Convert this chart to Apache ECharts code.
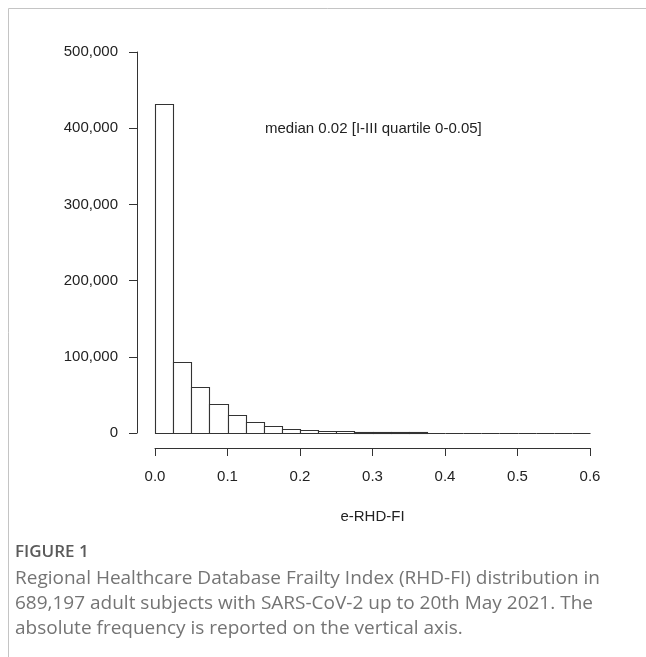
<!DOCTYPE html>
<html>
<head>
<meta charset="utf-8">
<script src="https://cdn.jsdelivr.net/npm/echarts@6/dist/echarts.min.js"></script>
<style>
html,body{margin:0;padding:0;background:#fff;}
#chart{width:646px;height:657px;}
</style>
</head>
<body>
<div id="chart"></div>
<script>
// Histogram bins (lower edge) of e-RHD-FI, bin width 0.025
const binStart = [0.000, 0.025, 0.050, 0.075, 0.100, 0.125, 0.150, 0.175, 0.200, 0.225, 0.250, 0.275,
                  0.300, 0.325, 0.350, 0.375, 0.400, 0.425, 0.450, 0.475, 0.500, 0.525, 0.550, 0.575];
const binWidth = 0.025;
// Absolute frequency per bin
const counts = [431600, 93000, 61000, 38400, 24000, 13900, 9000, 5600, 3400, 2600, 2100, 1500,
                1200, 1000, 900, 0, 0, 0, 0, 0, 0, 0, 0, 0];
const xTicks = [0.0, 0.1, 0.2, 0.3, 0.4, 0.5, 0.6];
const yTicks = [0, 100000, 200000, 300000, 400000, 500000];
const xTitle = 'e-RHD-FI';
const annotation = 'median 0.02 [I-III quartile 0-0.05]';
const figLabel = 'FIGURE 1';
const captionLines = [
  'Regional Healthcare Database Frailty Index (RHD-FI) distribution in',
  '689,197 adult subjects with SARS-CoV-2 up to 20th May 2021. The',
  'absolute frequency is reported on the vertical axis.'
];

const histData = binStart.map((s, i) => [s, s + binWidth, counts[i]]);
const fmtThousands = v => String(Math.round(v)).replace(/\B(?=(\d{3})+(?!\d))/g, ',');

const chart = echarts.init(document.getElementById('chart'), null, {renderer: 'canvas'});
const FONT = '"Liberation Sans", Arial, sans-serif';
const xMin = xTicks[0], xMax = xTicks[xTicks.length - 1];
const halfGapLeft = -binWidth; // R-style detached y axis sits one bin-width left of 0

chart.setOption({
  animation: false,
  backgroundColor: '#fff',
  grid: [
    {left: 137, right: 56, top: 52, bottom: 224},   // bars + y axis
    {left: 155, right: 56, top: 448, height: 0}     // detached x axis
  ],
  xAxis: [
    {gridIndex: 0, type: 'value', min: halfGapLeft, max: xMax, show: false},
    {
      gridIndex: 1, type: 'value', min: xMin, max: xMax, interval: 0.1,
      position: 'bottom',
      name: xTitle, nameLocation: 'middle', nameGap: 61,
      nameTextStyle: {fontFamily: FONT, fontSize: 15, color: '#222'},
      axisLine: {show: true, onZero: false, lineStyle: {color: '#333', width: 1}},
      axisTick: {show: true, length: 8, lineStyle: {color: '#333'}},
      axisLabel: {margin: 21, fontFamily: FONT, fontSize: 15, color: '#222',
                  formatter: v => v.toFixed(1)},
      splitLine: {show: false}
    }
  ],
  yAxis: [
    {
      gridIndex: 0, type: 'value', min: yTicks[0], max: yTicks[yTicks.length - 1], interval: 100000,
      axisLine: {show: true, onZero: false, lineStyle: {color: '#333', width: 1}},
      axisTick: {show: true, length: 8, lineStyle: {color: '#333'}},
      axisLabel: {margin: 19, fontFamily: FONT, fontSize: 15, color: '#222',
                  formatter: v => fmtThousands(v)},
      splitLine: {show: false}
    },
    {gridIndex: 1, type: 'value', min: 0, max: 1, show: false}
  ],
  series: [{
    type: 'custom',
    xAxisIndex: 0, yAxisIndex: 0,
    data: histData,
    encode: {x: [0, 1], y: 2},
    renderItem: function (params, api) {
      const x0 = api.value(0), x1 = api.value(1), y = api.value(2);
      const pBase = api.coord([x0, 0]);
      const pTop = api.coord([x1, y]);
      const left = Math.round(pBase[0]) + 0.5;
      const right = Math.round(pTop[0]) + 0.5;
      const bottom = Math.round(pBase[1]) + 0.5;
      const top = Math.round(pTop[1]) + 0.5;
      return {
        type: 'rect',
        shape: {x: left, y: top, width: right - left, height: bottom - top},
        style: {fill: '#fff', stroke: '#333', lineWidth: 1.1}
      };
    }
  }],
  graphic: [
    {type: 'line', shape: {x1: 8.5, y1: 8.5, x2: 646, y2: 8.5}, style: {stroke: '#c4c4c4', lineWidth: 1}},
    {type: 'line', shape: {x1: 8.5, y1: 8.5, x2: 8.5, y2: 657}, style: {stroke: '#c4c4c4', lineWidth: 1}},
    {type: 'text', left: 265, top: 121,
     style: {text: annotation, font: '15px ' + FONT, fill: '#222'}},
    {type: 'text', left: 15, top: 544,
     style: {text: figLabel, font: '600 17px "Open Sans", sans-serif', fill: '#5a5a5a'}},
    {type: 'text', left: 15, top: 566,
     style: {text: captionLines.join('\n'), font: '19px "Open Sans", sans-serif', fill: '#747474', lineHeight: 25}}
  ]
});
</script>
</body>
</html>
